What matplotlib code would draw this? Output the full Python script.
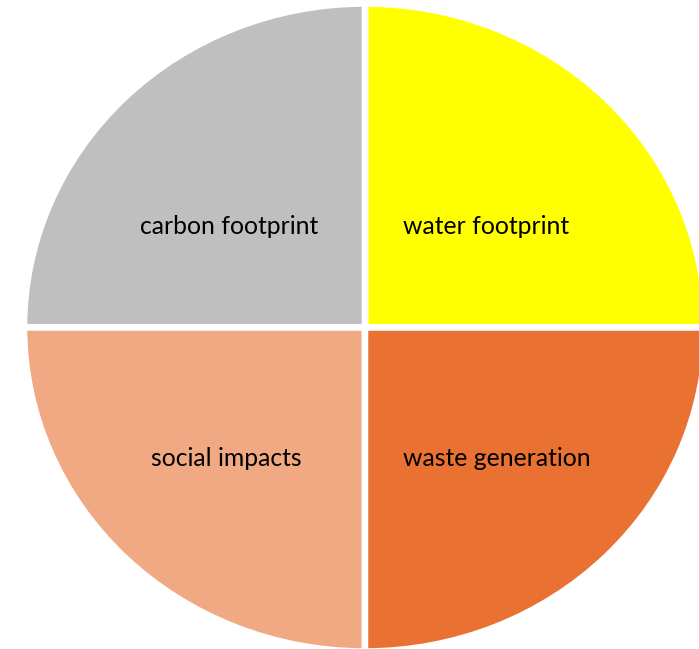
import matplotlib.pyplot as plt

# four equal shares, counter-clockwise from 3 o'clock
labels = ['water footprint', 'carbon footprint', 'social impacts', 'waste generation']
shares = [25, 25, 25, 25]
colors = ['#FFFF00', '#BFBFBF', '#F1A983', '#E97132']

# label anchor (x, y, ha) in pie units
label_pos = [(0.112, 0.317, 'left'), (-0.402, 0.317, 'center'),
             (-0.411, -0.408, 'center'), (0.112, -0.408, 'left')]

W, H = 699, 649
cx, cy = 365, 327.5      # pie centre in pixels (from top)
rx, ry = 341, 324        # stretched a bit wider than tall

fig = plt.figure(figsize=(W / 100, H / 100), dpi=100)
ax = fig.add_axes([0, 0, 1, 1])
ax.pie(shares, colors=colors, startangle=0, counterclock=True,
       wedgeprops=dict(edgecolor='white', linewidth=4.7))
ax.set_aspect('auto')
ax.set_xlim(-cx / rx, (W - cx) / rx)
ax.set_ylim(-(H - cy) / ry, cy / ry)
ax.axis('off')

for lab, (x, y, ha) in zip(labels, label_pos):
    ax.text(x * 338 / rx, y * 320 / ry, lab, ha=ha, va='center',
            fontsize=17.8, family='Lato', color='black')

fig.savefig('out.png', dpi=100)
